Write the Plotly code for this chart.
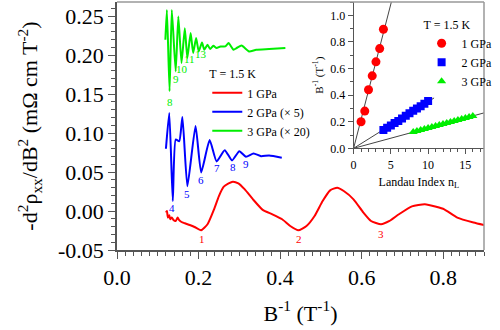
import plotly.graph_objects as go
import numpy as np

# ---- main panel: -d2(rho_xx)/dB2 versus inverse field ----
inv_b_1gpa = [0.1200, 0.1224, 0.1248, 0.1282, 0.1305, 0.1344, 0.1384, 0.1439, 0.1487, 0.1520,
              0.1582, 0.1663, 0.1783, 0.1902, 0.2060, 0.2220, 0.2380, 0.2499, 0.2618, 0.2737,
              0.2840, 0.2976, 0.3134, 0.3334, 0.3573, 0.3811, 0.4050, 0.4248, 0.4446, 0.4647,
              0.4845, 0.5043, 0.5227, 0.5401, 0.5561, 0.5800, 0.6038, 0.6229, 0.6475, 0.6683,
              0.6914, 0.7232, 0.7549, 0.7828, 0.8026, 0.8346, 0.8742, 0.9021]
d2rho_1gpa = [-0.0020, 0.0000, -0.0084, -0.0055, -0.0106, -0.0084, -0.0115, -0.0128, -0.0084, -0.0115,
              -0.0141, -0.0157, -0.0179, -0.0205, -0.0247, -0.0170, 0.0022, 0.0192, 0.0312, 0.0354,
              0.0376, 0.0354, 0.0277, 0.0150, 0.0015, -0.0042, -0.0106, -0.0192, -0.0247, -0.0192,
              -0.0064, 0.0128, 0.0265, 0.0299, 0.0256, 0.0150, -0.0017, -0.0128, -0.0170, -0.0128,
              -0.0042, 0.0060, 0.0086, 0.0054, 0.0022, -0.0084, -0.0148, -0.0183]

inv_b_2gpa = [0.1200, 0.1282, 0.1368, 0.1439, 0.1527, 0.1604, 0.1726, 0.1926, 0.2064, 0.2272,
              0.2442, 0.2642, 0.2821, 0.3000, 0.3162, 0.3348, 0.3532, 0.3730, 0.4041]
d2rho_2gpa_x5 = [0.0798, 0.1258, 0.0128, 0.0917, 0.0895, 0.1205, 0.0316, 0.1090, 0.0495, 0.0910,
                 0.0636, 0.0780, 0.0648, 0.0767, 0.0696, 0.0738, 0.0703, 0.0712, 0.0683]

inv_b_3gpa = [0.1186, 0.1224, 0.1289, 0.1344, 0.1439, 0.1504, 0.1582, 0.1663, 0.1725, 0.1806,
              0.1868, 0.1940, 0.2005, 0.2084, 0.2141, 0.2220, 0.2284, 0.2363, 0.2442, 0.2537,
              0.2656, 0.2737, 0.2857, 0.2936, 0.3055, 0.3239, 0.3413, 0.3730, 0.4129]
d2rho_3gpa_x20 = [0.2196, 0.2579, 0.1535, 0.2579, 0.1790, 0.2494, 0.1898, 0.2345, 0.1962, 0.2281,
                  0.2026, 0.2217, 0.2046, 0.2161, 0.2068, 0.2132, 0.2077, 0.2119, 0.2090, 0.2110,
                  0.2110, 0.2153, 0.2068, 0.2090, 0.2123, 0.2046, 0.2068, 0.2077, 0.2090]

# Landau-level labels at the oscillation minima: (index, B^-1, y)
labels_1gpa = [("1", 0.2076, -0.0362), ("2", 0.4460, -0.0362), ("3", 0.6475, -0.0298)]
labels_2gpa = [("4", 0.1360, 0.0043), ("5", 0.1726, 0.0222), ("6", 0.2060, 0.0396),
               ("7", 0.2458, 0.0555), ("8", 0.2833, 0.0563), ("9", 0.3174, 0.0597)]
labels_3gpa = [("8", 0.1290, 0.1400), ("9", 0.1449, 0.1697), ("10", 0.1600, 0.1820),
               ("11", 0.1790, 0.1950), ("13", 0.2060, 0.2017)]

x_ticks = [0.0, 0.2, 0.4, 0.6, 0.8]
x_ticktext = ["0.0", "0.2", "0.4", "0.6", "0.8"]
y_ticks = [-0.05, 0.0, 0.05, 0.10, 0.15, 0.20, 0.25]
y_ticktext = ["-0.05", "0.00", "0.05", "0.10", "0.15", "0.20", "0.25"]

# ---- inset: Landau fan diagram ----
n_1gpa = [1.0, 1.5, 2.0, 2.5, 3.0, 3.5, 4.0]
binv_1gpa = [0.200, 0.280, 0.440, 0.545, 0.650, 0.750, 0.895]
n_2gpa = [4.0, 4.5, 5.0, 5.5, 6.0, 6.5, 7.0, 7.5, 8.0, 8.5, 9.0, 9.5, 10.0]
binv_2gpa = [0.137, 0.155, 0.172, 0.190, 0.206, 0.225, 0.244, 0.263, 0.282, 0.300, 0.317, 0.336, 0.355]
n_3gpa = [8.0, 8.5, 9.0, 9.5, 10.0, 10.5, 11.0, 11.5, 12.0, 12.5, 13.0, 13.5, 14.0, 14.5, 15.0, 15.5, 16.0]
binv_3gpa = [0.122, 0.130, 0.137, 0.145, 0.152, 0.160, 0.168, 0.175, 0.183, 0.190, 0.198, 0.205,
             0.213, 0.220, 0.228, 0.236, 0.243]
fit_extent = [5.5, 10.8, 17.5]   # how far each fit line is drawn along n_L

RED, BLUE, GREEN = "#ff0000", "#0000ff", "#00ee00"
SERIF = "Liberation Serif"

fig = go.Figure()

main_series = [
    (inv_b_1gpa, d2rho_1gpa, RED, "1 GPa"),
    (inv_b_2gpa, d2rho_2gpa_x5, BLUE, "2 GPa (\u00d7 5)"),
    (inv_b_3gpa, d2rho_3gpa_x20, GREEN, "3 GPa (\u00d7 20)"),
]
for xs, ys, col, name in main_series:
    fig.add_trace(go.Scatter(
        x=xs, y=ys, mode="lines", name=name,
        line=dict(color=col, width=2, shape="spline", smoothing=0.5),
        xaxis="x", yaxis="y", legend="legend"))

fan_series = [
    (n_1gpa, binv_1gpa, RED, "circle", 9, "1 GPa", fit_extent[0]),
    (n_2gpa, binv_2gpa, BLUE, "square", 8, "2 GPa", fit_extent[1]),
    (n_3gpa, binv_3gpa, GREEN, "triangle-up", 8, "3 GPa", fit_extent[2]),
]
for ns, bs, col, sym, sz, name, ext in fan_series:
    n_arr, b_arr = np.array(ns), np.array(bs)
    slope = float(np.sum(n_arr * b_arr) / np.sum(n_arr * n_arr))
    fig.add_trace(go.Scatter(
        x=[0, ext], y=[0, slope * ext], mode="lines",
        line=dict(color="#444444", width=1), showlegend=False,
        xaxis="x2", yaxis="y2", hoverinfo="skip"))
for ns, bs, col, sym, sz, name, ext in fan_series:
    fig.add_trace(go.Scatter(
        x=ns, y=bs, mode="markers", name=name,
        marker=dict(color=col, symbol=sym, size=sz, line=dict(width=0)),
        xaxis="x2", yaxis="y2", legend="legend2"))

annotations = []
for labs, col in [(labels_1gpa, RED), (labels_2gpa, BLUE), (labels_3gpa, GREEN)]:
    for txt, lx, ly in labs:
        annotations.append(dict(x=lx, y=ly, xref="x", yref="y", text=txt, showarrow=False,
                                font=dict(family=SERIF, size=11, color=col)))

fig.update_layout(
    width=500, height=330,
    margin=dict(l=117, r=5, t=2, b=80),
    paper_bgcolor="white", plot_bgcolor="white",
    font=dict(family=SERIF, color="black"),
    xaxis=dict(
        domain=[0, 1], range=[0, 0.9], tickvals=x_ticks, ticktext=x_ticktext,
        ticks="outside", ticklen=7, tickwidth=1, tickcolor="#555555",
        minor=dict(dtick=0.02, tick0=0, ticks="outside", ticklen=4, tickcolor="#555555"),
        showline=True, linecolor="#555555", linewidth=1.5, showgrid=False, zeroline=False,
        tickfont=dict(family=SERIF, size=22, color="black"),
        title=dict(text="B<sup>-1</sup> (T<sup>-1</sup>)", font=dict(family=SERIF, size=22), standoff=16),
    ),
    yaxis=dict(
        domain=[0, 1], range=[-0.05, 0.268], tickvals=y_ticks, ticktext=y_ticktext,
        ticks="outside", ticklen=7, tickwidth=1, tickcolor="#555555",
        minor=dict(dtick=0.01, tick0=0, ticks="outside", ticklen=4, tickcolor="#555555"),
        showline=True, linecolor="#555555", linewidth=1.5, showgrid=False, zeroline=False,
        tickfont=dict(family=SERIF, size=22, color="black"),
        title=dict(text="-d<sup>2</sup>\u03c1<sub>xx</sub>/dB<sup>2</sup> (m\u03a9 cm T<sup>-2</sup>)",
                   font=dict(family=SERIF, size=22), standoff=14),
    ),
    xaxis2=dict(
        domain=[0.6447, 1], range=[0, 17.5], anchor="y2", dtick=5, tick0=0,
        ticks="outside", ticklen=5, tickcolor="#555555",
        minor=dict(dtick=1, tick0=0, ticks="outside", ticklen=3, tickcolor="#555555"),
        showline=True, linecolor="#555555", linewidth=1, showgrid=False, zeroline=False,
        tickfont=dict(family=SERIF, size=12),
        title=dict(text="Landau Index n<sub>L</sub>", font=dict(family=SERIF, size=12), standoff=6),
    ),
    yaxis2=dict(
        domain=[0.410, 1], range=[0, 1.1], anchor="x2", dtick=0.2, tick0=0, tickformat=".1f",
        ticks="outside", ticklen=5, tickcolor="#555555",
        minor=dict(dtick=0.1, tick0=0, ticks="outside", ticklen=3, tickcolor="#555555"),
        showline=True, linecolor="#555555", linewidth=1, showgrid=False, zeroline=False,
        tickfont=dict(family=SERIF, size=12),
        title=dict(text="B<sup>-1</sup> (T<sup>-1</sup>)", font=dict(family=SERIF, size=11), standoff=4),
    ),
    legend=dict(
        x=0.246, y=0.755, xanchor="left", yanchor="top", bgcolor="rgba(0,0,0,0)",
        title=dict(text="T = 1.5 K", font=dict(family=SERIF, size=12)),
        font=dict(family=SERIF, size=12), itemwidth=30, tracegroupgap=0,
    ),
    legend2=dict(
        x=0.83, y=0.955, xanchor="left", yanchor="top", bgcolor="rgba(0,0,0,0)",
        title=dict(text="T = 1.5 K", font=dict(family=SERIF, size=12)),
        font=dict(family=SERIF, size=12), itemwidth=30, tracegroupgap=0,
    ),
    annotations=annotations,
    shapes=[
        dict(type="line", xref="paper", yref="paper", x0=0, x1=1, y0=1, y1=1,
             line=dict(color="#999999", width=1.5)),
        dict(type="line", xref="paper", yref="paper", x0=1, x1=1, y0=0, y1=1,
             line=dict(color="#999999", width=1.5)),
    ],
    showlegend=True,
)

fig.write_html("out.html")
